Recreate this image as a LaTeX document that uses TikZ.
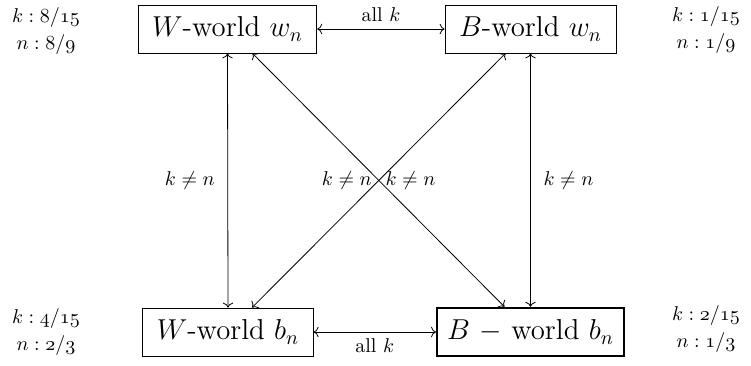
\documentclass[tikz,border=0pt]{standalone}
\usepackage{tikz}
\usetikzlibrary{positioning, arrows.meta}

\newcommand{\osn}[1]{\legacyoldstylenums{#1}}

\begin{document}
\begin{tikzpicture}[
        x=0.5pt, y=-0.5pt,
        world/.style={
            rectangle, draw=black, font=\Large,
            minimum height=24pt, inner xsep=7pt, align=center
        },
        chosen/.style={world, very thick, inner xsep=5pt},
        odds/.style={align=center, font=\normalsize},
        link/.style={draw=black, <->}
    ]

    \useasboundingbox (0,0) rectangle (751,365);

    % WORLD BOXES
    \node[world]  (Ww) at (227.5, 29) {$W$-world $w_n$};
    \node[world]  (Bw) at (530.5, 29) {$B$-world $w_n$};
    \node[world]  (Wb) at (228, 332)  {$W$-world $b_n$};
    \node[chosen] (Bb) at (530.5, 332) {$B$ $-$ world $b_n$};

    % ODDS NEXT TO EACH WORLD
    \node[odds] (oWw) at (46, 31)  {$k:{}$\osn{8}/\osn{15}\\[1.5pt]$n:{}$\osn{8}/\osn{9}};
    \node[odds] (oBw) at (706, 30) {$k:{}$\osn{1}/\osn{15}\\[1.5pt]$n:{}$\osn{1}/\osn{9}};
    \node[odds] (oWb) at (46, 332) {$k:{}$\osn{4}/\osn{15}\\[1.5pt]$n:{}$\osn{2}/\osn{3}};
    \node[odds] (oBb) at (706, 329) {$k:{}$\osn{2}/\osn{15}\\[1.5pt]$n:{}$\osn{1}/\osn{3}};

    % HORIZONTAL LINKS
    \draw[link] (Ww.east) -- node[above] {all $k$} (Bw.west);
    \draw[link] (Wb.east) -- node[below] {all $k$} (Bb.west);

    % VERTICAL LINKS
    \draw[link] (Ww.south) -- node[left=3pt] {$k \neq n$} (Wb.north);
    \draw[link] (Bw.south) -- node[right=3pt] {$k \neq n$} (Bb.north);

    % DIAGONAL LINKS
    \draw[link] ([xshift=12.5pt]Ww.south) -- node[right] {$k \neq n$} ([xshift=-13pt]Bb.north);
    \draw[link] ([xshift=-12.5pt]Bw.south) -- node[left] {$k \neq n$} ([xshift=12pt]Wb.north);

\end{tikzpicture}
\end{document}
